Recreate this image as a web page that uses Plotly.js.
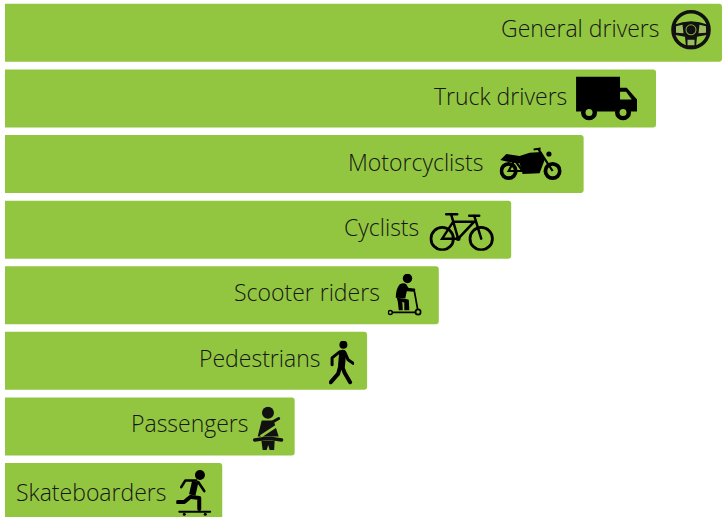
<!DOCTYPE html>
<html>
<head>
<meta charset="utf-8">
<script src="https://cdn.plot.ly/plotly-3.0.1.min.js"></script>
<style>html,body{margin:0;padding:0;background:#fff;overflow:hidden}#chart{width:722px;height:517px}</style>
</head>
<body>
<div id="chart"></div>
<script>
// Data
var categories = ['General drivers','Truck drivers','Motorcyclists','Cyclists','Scooter riders','Pedestrians','Passengers','Skateboarders'];
var values = [100, 90.8, 80.7, 70.6, 60.5, 50.5, 40.4, 30.3];

// Layout helpers (pixels)
var W = 722, H = 517, LEFT = 5, BAND = 65.6;
var PX = (W - LEFT) / 100;
var labelGaps = [60, 87, 99, 90, 57, 45, 44, 53];
var labelShift = [5, 2, 2, 3, 3, 3, 3, 0];
var INK = '#161616', BAR = '#92c640';

// Icons: [width, height, right gap from bar end, vertical offset from bar centre, inner svg]
var icons = [
 [40,40,11,-3,
  '<circle cx="20" cy="20" r="18" fill="none" stroke="#111" stroke-width="3.6"/>'+
  '<path d="M3 15Q20 8 37 15L37 25L26 27L25 37L15 37L14 27L3 25Z" fill="#111"/>'+
  '<path d="M5 16.5L11.500 15L12.500 23.500L5 23Z M35 16.5L28.500 15L27.500 23.500L35 23Z M16.500 30H23.500V35.500H16.500Z" fill="#9dbb63"/>'+
  '<circle cx="20" cy="20" r="5" fill="none" stroke="#83a93e" stroke-width="1"/>'],
 [61,44,19,0,
  '<path d="M0 0H44V35H0Z M44 11.300H50.700L61 23V35H44Z" fill="#000"/>'+
  '<path d="M44 15.300H50L55.700 23H44Z" fill="'+BAR+'"/>'+
  '<circle cx="13" cy="36" r="8" fill="#000"/><circle cx="47" cy="36" r="8" fill="#000"/>'+
  '<circle cx="13" cy="36" r="3.500" fill="'+BAR+'"/><circle cx="47" cy="36" r="3.500" fill="'+BAR+'"/>'],
 [62,34,22,0,
  '<circle cx="9" cy="24" r="7.200" fill="none" stroke="#000" stroke-width="3.800"/>'+
  '<circle cx="53" cy="24" r="7.200" fill="none" stroke="#000" stroke-width="3.800"/>'+
  '<path d="M0.700 13L6.700 7L20 9L30 5.700L41.700 5L45 13L40 26.300L23 27L20 16.300L8 14.700Z" fill="#000"/>'+
  '<path d="M38.300 1.300L53 24M34 2.500L41 1.500M9 24L15 13L23 24Z" fill="none" stroke="#000" stroke-width="2.200"/>'+
  '<circle cx="49.300" cy="7" r="2.600" fill="#000"/>'],
 [65,38,17,2,
  '<circle cx="13" cy="26" r="11.200" fill="none" stroke="#000" stroke-width="2.800"/>'+
  '<circle cx="52" cy="26" r="11.200" fill="none" stroke="#000" stroke-width="2.800"/>'+
  '<path d="M22 2L29 26L13 26L24 9L45 9L29 26M45 3L52 26M17 1.500H28M40 3H50" fill="none" stroke="#000" stroke-width="2.500" stroke-linecap="round"/>'+
  '<circle cx="29" cy="26" r="2.400" fill="#000"/>'],
 [34,43,17,0,
  '<circle cx="19.700" cy="4.700" r="4.700" fill="#000"/>'+
  '<path d="M12 10.500Q16 8.500 18.500 10.500L20.500 14L27.500 15.500L27 18L19 17.500L17.500 24.500L8 24Q8 15 12 10.500Z" fill="#000"/>'+
  '<path d="M9 24L17.500 25L21 26L21.500 36.500L16.500 36.500L16.500 29L14.500 28L15 36.500L11 36.500L10 28Z" fill="#000"/>'+
  '<path d="M2 38.700H30M26.300 16L30.300 38M22 15.500H27" fill="none" stroke="#000" stroke-width="1.700"/>'+
  '<circle cx="2.500" cy="38.700" r="2" fill="'+BAR+'" stroke="#000" stroke-width="1.500"/>'+
  '<circle cx="30.300" cy="38.300" r="2.600" fill="'+BAR+'" stroke="#000" stroke-width="1.800"/>'],
 [25,44,13,2,
  '<circle cx="14.300" cy="4" r="4" fill="#000"/>'+
  '<path d="M13.500 12.500L12.500 24" fill="none" stroke="#000" stroke-width="7" stroke-linecap="round"/>'+
  '<path d="M10.500 11L3 17L3 24M16 12L19 19L24 22.500" fill="none" stroke="#000" stroke-width="3" stroke-linecap="round" stroke-linejoin="round"/>'+
  '<path d="M11 26L9 33L1.500 41.500M13 25L15.500 32L21 41.500" fill="none" stroke="#000" stroke-width="4" stroke-linecap="round" stroke-linejoin="round"/>'],
 [31,44,11,2,
  '<circle cx="15.300" cy="6.200" r="6" fill="#111"/>'+
  '<path d="M9 14H21L26 30H5Z" fill="#111"/>'+
  '<path d="M8 30L24 19.500" fill="none" stroke="'+BAR+'" stroke-width="2.600"/>'+
  '<path d="M19 16L26 12" fill="none" stroke="#111" stroke-width="3" stroke-linecap="round"/>'+
  '<path d="M2 33.500L12 32H19L29 33.500" fill="none" stroke="#111" stroke-width="3.400" stroke-linecap="round"/>'+
  '<path d="M8.700 34H22L21.500 43.500H17L15.500 38.500L14 43.500H10Z" fill="#111"/>'],
 [36,46,10,1,
  '<circle cx="23.700" cy="5" r="5" fill="#000"/>'+
  '<path d="M19 11.500L16 25" fill="none" stroke="#000" stroke-width="6.500"/>'+
  '<path d="M20 10.500L9 10.500L5 17M22 12L28 21" fill="none" stroke="#000" stroke-width="2.600" stroke-linecap="round" stroke-linejoin="round"/>'+
  '<path d="M15 27L23 28L23 39M14 27L8 32L1.500 32" fill="none" stroke="#000" stroke-width="4" stroke-linejoin="round" stroke-linecap="round"/>'+
  '<path d="M3 41.700H34" fill="none" stroke="#000" stroke-width="1.800" stroke-linecap="round"/>'+
  '<circle cx="8" cy="44.300" r="1.500" fill="#000"/><circle cx="29" cy="44.300" r="1.500" fill="#000"/>']
];

function iconUri(ic){
  var svg = '<svg xmlns="http://www.w3.org/2000/svg" width="'+ic[0]+'" height="'+ic[1]+'" viewBox="0 0 '+ic[0]+' '+ic[1]+'">'+ic[4]+'</svg>';
  return 'data:image/svg+xml;charset=utf-8,' + encodeURIComponent(svg);
}

var images = icons.map(function(ic,i){
  return {
    source: iconUri(ic), xref:'x', yref:'y',
    x: values[i] - ic[2]/PX, y: i + ic[3]/BAND,
    sizex: ic[0]/PX, sizey: ic[1]/BAND,
    xanchor:'right', yanchor:'middle', sizing:'stretch', layer:'above'
  };
});

var annotations = categories.map(function(c,i){
  return {
    x: values[i], y: i, xref:'x', yref:'y', text:c, showarrow:false,
    xanchor:'right', yanchor:'middle', xshift:-labelGaps[i], yshift:labelShift[i],
    font:{family:'"Open Sans", sans-serif', size:23, color:INK, weight:300}
  };
});

Plotly.newPlot('chart',[{
  type:'bar', orientation:'h', x:values, y:categories,
  marker:{color:BAR, cornerradius:3, line:{width:0}},
  hoverinfo:'skip'
}],{
  width:W, height:H, margin:{l:LEFT,r:0,t:0,b:0},
  paper_bgcolor:'#fff', plot_bgcolor:'#fff', showlegend:false, bargap:0.116,
  xaxis:{range:[0,100], visible:false, fixedrange:true},
  yaxis:{type:'category', categoryorder:'array', categoryarray:categories, range:[7.38,-0.5], visible:false, fixedrange:true},
  annotations:annotations, images:images
},{displayModeBar:false,staticPlot:true});
</script>
</body>
</html>
